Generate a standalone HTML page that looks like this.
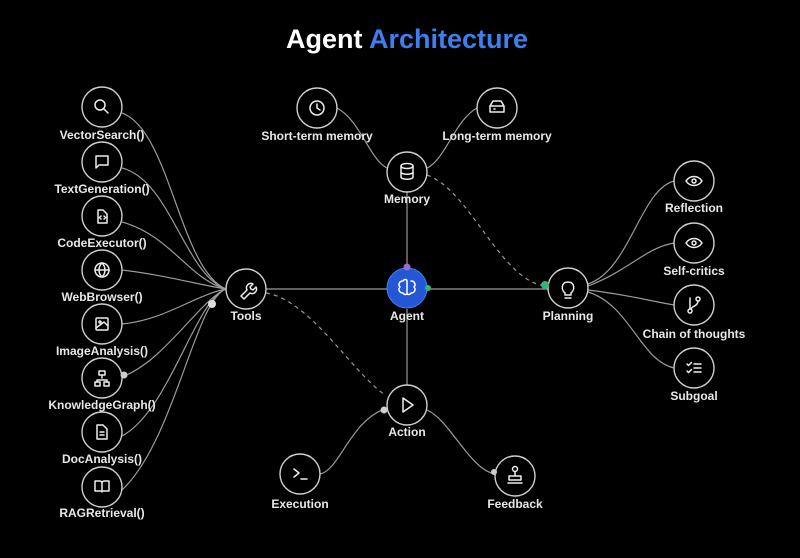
<!DOCTYPE html>
<html><head><style>
html,body{margin:0;padding:0;background:#000;}
svg{display:block;}
text{font-family:"Liberation Sans",sans-serif;font-weight:bold;fill:#e8e8e8;font-size:12px;text-anchor:middle;}
.n{fill:#000;stroke:#cfcfcf;stroke-width:1.4;}
.l{fill:none;stroke:#9a9a9a;stroke-width:1.2;}
.d{fill:none;stroke:#9a9a9a;stroke-width:1.2;stroke-dasharray:4 4;}
.i{fill:none;stroke:#eee;stroke-width:1.5;stroke-linecap:round;stroke-linejoin:round;}
</style></head><body>
<svg width="800" height="558" viewBox="0 0 800 558">
<rect width="800" height="558" fill="#000"/>
<text x="407" y="48" style="font-size:27px;fill:#fff"><tspan>Agent </tspan><tspan style="fill:#3d7ef0">Architecture</tspan></text>

<g class="l">
<path d="M122 113 C170 130,180 270,226 289"/>
<path d="M122 168 C170 180,185 275,226 289"/>
<path d="M122 222 C170 235,190 280,226 289"/>
<path d="M122 270 C165 275,200 285,226 289"/>
<path d="M122 324 C165 320,195 295,226 289"/>
<path d="M124 376 C165 360,200 300,226 289"/>
<path d="M122 436 C170 410,195 300,226 289"/>
<path d="M122 490 C175 440,195 300,226 289"/>
<path d="M266 289 L387 289"/>
<path d="M427 289 L548 289"/>
<path d="M407 192 L407 268"/>
<path d="M407 309 L407 385"/>
<path d="M337 108 C360 120,370 160,387 168"/>
<path d="M477 108 C455 120,445 160,427 168"/>
<path d="M588 284 C630 270,640 190,674 181"/>
<path d="M588 286 C630 270,645 248,674 243"/>
<path d="M588 290 C630 295,645 300,674 305"/>
<path d="M588 292 C630 305,640 360,674 368"/>
<path d="M387 408 C350 420,340 470,320 474"/>
<path d="M427 410 C450 420,470 470,495 474"/>
</g>
<path class="d" d="M427 175 C470 190,500 280,545 286"/>
<path class="d" d="M266 293 C310 300,350 370,385 395"/>

<g>
<circle class="n" cx="102" cy="107" r="20"/><circle class="n" cx="102" cy="162" r="20"/>
<circle class="n" cx="102" cy="216" r="20"/><circle class="n" cx="102" cy="270" r="20"/>
<circle class="n" cx="102" cy="324" r="20"/><circle class="n" cx="102" cy="378" r="20"/>
<circle class="n" cx="102" cy="432" r="20"/><circle class="n" cx="102" cy="487" r="20"/>
<circle class="n" cx="246" cy="289" r="20"/>
<circle class="n" cx="317" cy="108" r="20"/><circle class="n" cx="497" cy="108" r="20"/>
<circle class="n" cx="407" cy="172" r="20"/>
<circle cx="407" cy="288" r="20" fill="#2457d6" stroke="#4a7cf0" stroke-width="1"/>
<circle class="n" cx="568" cy="288" r="20"/>
<circle class="n" cx="694" cy="181" r="20"/><circle class="n" cx="694" cy="243" r="20"/>
<circle class="n" cx="694" cy="305" r="20"/><circle class="n" cx="694" cy="368" r="20"/>
<circle class="n" cx="407" cy="405" r="20"/>
<circle class="n" cx="300" cy="474" r="20"/><circle class="n" cx="515" cy="476" r="20"/>
</g>
<circle cx="407" cy="267" r="3.5" fill="#9b6bd0"/>
<circle cx="428" cy="288" r="3" fill="#2fb57e"/>
<circle cx="545" cy="285" r="4" fill="#2fb57e"/>
<circle cx="212" cy="304" r="4" fill="#ddd"/>
<circle cx="124" cy="375" r="3.5" fill="#ccc"/>
<circle cx="384" cy="410" r="3.5" fill="#ccc"/>
<circle cx="494" cy="472" r="3" fill="#ccc"/>

<g class="i">
<circle cx="100" cy="105" r="5"/><path d="M104 109 L108 113"/>
<path d="M96 156 h12 v9 h-9 l-3 3 z"/>
<path d="M98 210 h5 l4 4 v9 h-9 z M101 219 l-1.5 -1.5 1.5 -1.5 M104 216 l1.5 1.5 -1.5 1.5"/>
<circle cx="102" cy="270" r="7"/><path d="M95 270 h14 M102 263 c-4 4,-4 10,0 14 c4 -4,4 -10,0 -14"/>
<rect x="96" y="318" width="12" height="12" rx="1"/><path d="M96 328 l8 -6 4 4"/><circle cx="100" cy="322" r="1"/>
<rect x="99" y="371" width="6" height="4"/><rect x="95" y="382" width="5" height="4"/><rect x="104" y="382" width="5" height="4"/><path d="M102 375 v3 M97 382 v-2 h10 v2"/>
<path d="M97 425 h6 l4 4 v10 h-10 z M100 432 h4 M100 435 h4"/>
<path d="M95 481 h5 c1 0 2 1 2 2 v9 M109 481 h-5 c-1 0 -2 1 -2 2 M95 481 v10 h14 v-10"/>
<path d="M241 296 l6 -6 c-2 -4 2 -8 6 -6 l-3 3 1 2 2 1 3 -3 c2 4 -2 8 -6 6 l-6 6 z"/>
<circle cx="317" cy="108" r="7"/><path d="M317 104 v4 l3 2"/>
<path d="M490 106 l3 -5 h8 l3 5 v6 h-14 z M490 106 h14 M494 109 h1"/>
<ellipse cx="407" cy="166" rx="6" ry="2.5"/><path d="M401 166 v11 c0 3 12 3 12 0 v-11 M401 172 c0 3 12 3 12 0"/>
<path d="M403 281 c-4 0 -5 4 -3 6 c-2 2 -1 6 3 6 c1 2 4 2 4 0 v-12 c0 -2 -3 -2 -4 0 z M411 281 c4 0 5 4 3 6 c2 2 1 6 -3 6 c-1 2 -4 2 -4 0" stroke="#fff"/>
<path d="M565 293 c-4 -3 -4 -11 3 -11 c7 0 7 8 3 11 v2 h-6 z M565 298 h6"/>
<path d="M686 181 c4 -6 12 -6 16 0 c-4 6 -12 6 -16 0 z"/><circle cx="694" cy="181" r="2"/>
<path d="M686 243 c4 -6 12 -6 16 0 c-4 6 -12 6 -16 0 z"/><circle cx="694" cy="243" r="2"/>
<circle cx="690" cy="311" r="2"/><circle cx="698" cy="299" r="2"/><path d="M690 298 v11 M698 301 c0 5 -6 5 -7 8"/>
<path d="M687 364 l1.5 1.5 3 -3 M687 371 l1.5 1.5 3 -3 M694 364 h7 M694 368 h7 M694 372 h7"/>
<path d="M403 398 v14 l10 -7 z"/>
<path d="M294 469 l5 4 -5 4 M301 479 h6"/>
<circle cx="515" cy="469" r="2.5"/><path d="M515 472 v4 M509 476 h12 v4 h-12 z M508 483 h14"/>
</g>

<text x="102" y="139">VectorSearch()</text>
<text x="102" y="193">TextGeneration()</text>
<text x="102" y="247">CodeExecutor()</text>
<text x="102" y="301">WebBrowser()</text>
<text x="102" y="355">ImageAnalysis()</text>
<text x="102" y="409">KnowledgeGraph()</text>
<text x="102" y="463">DocAnalysis()</text>
<text x="102" y="517">RAGRetrieval()</text>
<text x="246" y="320">Tools</text>
<text x="317" y="140">Short-term memory</text>
<text x="497" y="140">Long-term memory</text>
<text x="407" y="203">Memory</text>
<text x="407" y="320">Agent</text>
<text x="568" y="320">Planning</text>
<text x="694" y="212">Reflection</text>
<text x="694" y="275">Self-critics</text>
<text x="694" y="338">Chain of thoughts</text>
<text x="694" y="400">Subgoal</text>
<text x="407" y="436">Action</text>
<text x="300" y="508">Execution</text>
<text x="515" y="508">Feedback</text>
</svg>
</body></html>
